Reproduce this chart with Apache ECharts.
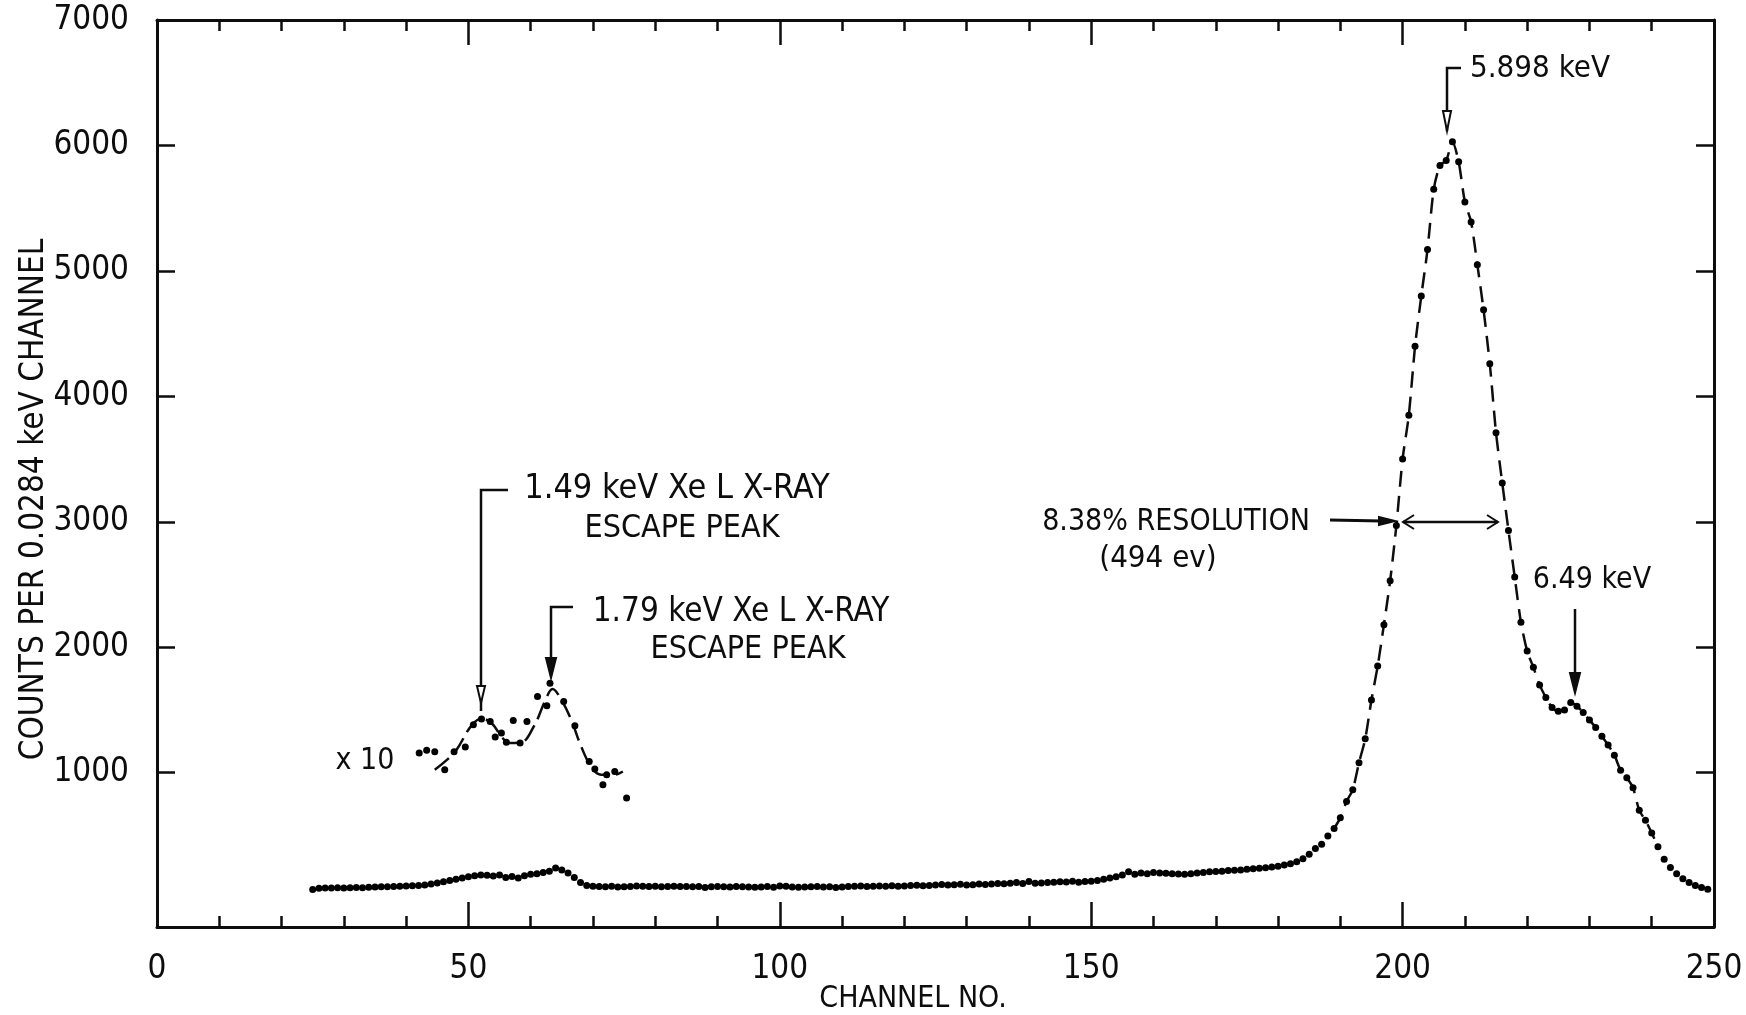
<!DOCTYPE html>
<html>
<head>
<meta charset="utf-8">
<title>Pulse height spectrum</title>
<script src="https://cdn.jsdelivr.net/npm/echarts@6/dist/echarts.min.js"></script>
<style>
  html, body { margin: 0; padding: 0; background: #fff; }
  #chart { width: 1746px; height: 1015px; }
</style>
</head>
<body>
<div id="chart"></div>
<script>
const FONT = "'Liberation Sans Narrow', 'DejaVu Sans Condensed', 'Liberation Sans', sans-serif";
const INK = '#0d0d0d';

// main spectrum, one count value per channel, starting at channel 25
const firstChannel = 25;
const mainCounts = [
  68, 78, 80, 80, 82, 80, 82, 84, 82, 86,
  88, 90, 90, 92, 95, 96, 98, 100, 105, 112,
  120, 130, 140, 150, 160, 170, 178, 185, 182, 176,
  185, 165, 172, 160, 178, 190, 195, 205, 215, 240,
  225, 200, 165, 125, 100, 95, 92, 90, 94, 88,
  90, 92, 96, 94, 92, 94, 90, 92, 95, 93,
  92, 90, 92, 84, 90, 92, 90, 88, 92, 90,
  88, 86, 88, 92, 86, 97, 95, 88, 86, 88,
  90, 92, 88, 90, 84, 88, 92, 94, 96, 92,
  94, 96, 95, 98, 94, 96, 100, 102, 98, 100,
  104, 108, 104, 106, 110, 104, 106, 112, 108, 112,
  116, 114, 118, 124, 116, 132, 118, 120, 124, 126,
  130, 128, 134, 126, 132, 135, 140, 150, 160, 170,
  185, 210, 190, 200, 195, 205, 200, 198, 195, 192,
  190, 195, 200, 205, 210, 212, 215, 220, 222, 225,
  230, 235, 238, 242, 248, 255, 265, 275, 290, 315,
  350, 395, 430, 495, 555, 640, 770, 865, 1080, 1270,
  1580, 1850, 2180, 2530, 2970, 3500, 3850, 4400, 4800, 5170,
  5650, 5840, 5880, 6030, 5870, 5550, 5390, 5050, 4690, 4260,
  3710, 3310, 2930, 2560, 2200, 1970, 1840, 1700, 1600, 1520,
  1490, 1500, 1560, 1530, 1480, 1420, 1360, 1290, 1220, 1140,
  1020, 960, 880, 700, 620, 520, 410, 310, 245, 195,
  155, 125, 100, 85, 70
];

// channels joined by the dashed fit curve over the main peak
const peakFitRange = [189, 241];
const shortTraceRange = [163, 167];

// x10 escape peak region [channel, counts x10]
const escapePoints = [
  [42.1, 1157], [43.3, 1178], [44.6, 1167], [46.2, 1024], [47.7, 1167],
  [49.5, 1205], [50.8, 1382], [52.1, 1428], [53.5, 1409], [54.3, 1284],
  [55.3, 1316], [56.1, 1242], [57.2, 1417], [58.3, 1236], [59.4, 1409],
  [61.1, 1608], [62.6, 1534], [63.1, 1714], [65.3, 1568], [67.1, 1374],
  [69.4, 1090], [70.3, 1029], [71.6, 904], [72.2, 984], [73.5, 1010],
  [75.4, 798]
];

// hand drawn curve through the x10 points
const escapeCurve = [
  [44.6, 1024], [46.5, 1100], [48.1, 1183], [50.4, 1369], [52.1, 1430],
  [53.7, 1396], [55.3, 1289], [56.6, 1236], [58.4, 1240], [60.5, 1369],
  [62.4, 1582], [63.5, 1667], [64.9, 1582], [66.5, 1422], [68.1, 1210],
  [69.7, 1050], [71.3, 984], [73.4, 984], [74.8, 1010]
];

const yLabelValues = [1000, 2000, 3000, 4000, 5000, 6000, 7000];
const yTickValues = [1000, 2000, 3000, 4000, 5000, 6000];

const mainPoints = mainCounts.map((v, i) => [firstChannel + i, v]);
const inRange = (r) => mainPoints.filter(p => p[0] >= r[0] && p[0] <= r[1]);

const chart = echarts.init(document.getElementById('chart'));

const axisLine = { show: true, onZero: false, lineStyle: { color: INK, width: 3 } };

function xAxisDef(pos, withLabels) {
  return {
    type: 'value', position: pos, min: 0, max: 250, interval: 50,
    axisLine: axisLine,
    axisTick: { show: true, inside: true, length: 25, lineStyle: { color: INK, width: 2.5 } },
    minorTick: { show: true, splitNumber: 5, length: 11, lineStyle: { color: INK, width: 2.5 } },
    splitLine: { show: false },
    axisLabel: withLabels
      ? { show: true, color: INK, fontFamily: FONT, fontSize: 33, margin: 26 }
      : { show: false },
    name: withLabels ? 'CHANNEL NO.' : '',
    nameLocation: 'middle',
    nameGap: 57,
    nameMoveOverlap: false,
    nameTextStyle: { color: INK, fontFamily: FONT, fontSize: 30, padding: [0, 45, 0, 0] }
  };
}

function yAxisDef(pos, withLabels) {
  return {
    type: 'value', position: pos, min: -230, max: 7000,
    axisLine: axisLine,
    axisTick: { show: true, inside: true, length: 18, customValues: yTickValues,
      lineStyle: { color: INK, width: 2.5 } },
    splitLine: { show: false },
    axisLabel: withLabels
      ? { show: true, customValues: yLabelValues, formatter: (v) => String(v),
          color: INK, fontFamily: FONT, fontSize: 33, margin: 28 }
      : { show: false },
    name: withLabels ? 'COUNTS PER 0.0284 keV CHANNEL' : '',
    nameLocation: 'middle',
    nameGap: 106,
    nameRotate: 90,
    nameMoveOverlap: false,
    nameTextStyle: { color: INK, fontFamily: FONT, fontSize: 33, padding: [0, 52, 0, 0] }
  };
}

const dot = { color: '#000', opacity: 1 };

const option = {
  backgroundColor: '#ffffff',
  animation: false,
  grid: { left: 157, right: 32, top: 20, bottom: 88, containLabel: false, outerBoundsMode: 'none' },
  xAxis: [xAxisDef('bottom', true), xAxisDef('top', false)],
  yAxis: [yAxisDef('left', true), yAxisDef('right', false)],
  series: [
    {
      type: 'scatter', name: 'spectrum', data: mainPoints,
      symbolSize: 7, itemStyle: dot, z: 3
    },
    {
      type: 'line', name: 'peak fit', data: inRange(peakFitRange),
      showSymbol: false, smooth: 0.25,
      lineStyle: { color: INK, width: 2.5, type: [16, 9] }, z: 2
    },
    {
      type: 'line', name: 'trace', data: inRange(shortTraceRange),
      showSymbol: false, lineStyle: { color: INK, width: 2 }, z: 2
    },
    {
      type: 'scatter', name: 'x10', data: escapePoints,
      symbolSize: 7, itemStyle: dot, z: 3
    },
    {
      type: 'line', name: 'x10 fit', data: escapeCurve,
      showSymbol: false, smooth: 0.4,
      lineStyle: { color: INK, width: 2.5, type: [18, 7] }, z: 2
    }
  ]
};

chart.setOption(option);

// ---- annotations (pixel positions) ----
function txt(s, x, y, align, size) {
  return {
    type: 'text', x: x, y: y, z: 10,
    style: { text: s, fill: INK, font: size + 'px ' + FONT, align: align, verticalAlign: 'middle' }
  };
}
function line(pts, w) {
  return { type: 'polyline', z: 10, shape: { points: pts },
    style: { stroke: INK, lineWidth: w || 2.5, fill: null } };
}
function headDown(x, tip, h, hw, filled) {
  return { type: 'polygon', z: 11,
    shape: { points: [[x - hw, tip - h], [x + hw, tip - h], [x, tip]] },
    style: { stroke: INK, lineWidth: 2, fill: filled ? INK : '#fff' } };
}
function headRight(tip, y, h, hw) {
  return { type: 'polygon', z: 11,
    shape: { points: [[tip - h, y - hw], [tip - h, y + hw], [tip, y]] },
    style: { stroke: INK, lineWidth: 2, fill: INK } };
}

const graphics = [
  // 5.898 keV peak
  txt('5.898 keV', 1470, 69, 'left', 31),
  line([[1461, 68], [1447, 68], [1447, 131]]),
  headDown(1447, 131, 20, 4, false),

  // 1.49 keV escape peak
  txt('1.49 keV Xe L X-RAY', 677, 489, 'center', 34),
  txt('ESCAPE PEAK', 682, 529, 'center', 32),
  line([[508, 490], [481, 490], [481, 711]]),
  headDown(481, 703, 17, 4, false),

  // 1.79 keV escape peak
  txt('1.79 keV Xe L X-RAY', 741, 612, 'center', 33),
  txt('ESCAPE PEAK', 748, 650, 'center', 32),
  line([[573, 607], [551, 607], [551, 670]]),
  headDown(551, 678, 20, 5, true),

  txt('x 10', 365, 761, 'center', 30),

  // resolution
  txt('8.38% RESOLUTION', 1176, 522, 'center', 30),
  txt('(494 ev)', 1158, 559, 'center', 31),
  line([[1330, 520], [1382, 521]], 3),
  headRight(1395, 521, 16, 4),
  line([[1403, 522], [1498, 522]], 2.5),
  line([[1414, 515], [1403, 522], [1414, 529]], 2),
  line([[1487, 515], [1498, 522], [1487, 529]], 2),

  // 6.49 keV shoulder
  txt('6.49 keV', 1592, 580, 'center', 30),
  line([[1575, 609], [1575, 680]], 2.5),
  headDown(1575, 693, 20, 5, true)
];

chart.setOption({ graphic: graphics });
</script>
</body>
</html>
